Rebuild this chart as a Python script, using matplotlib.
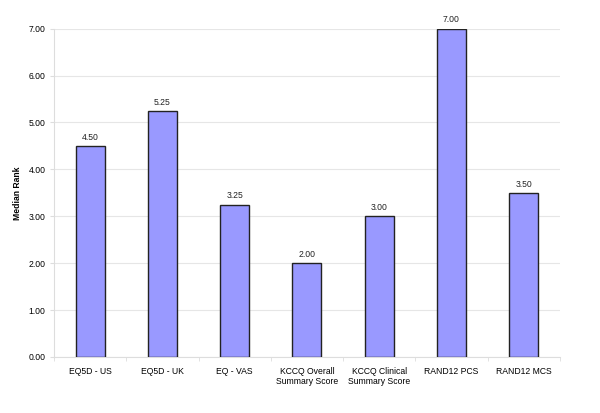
import numpy as np
import matplotlib.pyplot as plt

plt.rcParams['font.family'] = ['Liberation Sans', 'DejaVu Sans']

categories = ['EQ5D - US', 'EQ5D - UK', 'EQ - VAS', 'KCCQ Overall\nSummary Score',
              'KCCQ Clinical\nSummary Score', 'RAND12 PCS', 'RAND12 MCS']
median_rank = [4.50, 5.25, 3.25, 2.00, 3.00, 7.00, 3.50]

fig = plt.figure(figsize=(6, 4.13), dpi=100)
ax = fig.add_axes([0.09, 0.1356, 0.843, 0.795])

x = np.arange(len(categories))
bars = ax.bar(x, median_rank, width=0.4, color='#9999FF', edgecolor='#222222',
              linewidth=1.0, zorder=3)

for xi, v in zip(x, median_rank):
    ax.text(xi, v + 0.09, f'{v:.2f}', ha='center', va='bottom', fontsize=6.2, color='#222222')

ax.set_xlim(-0.5, len(categories) - 0.5)
ax.set_ylim(0, 7)
ax.set_yticks(np.arange(0, 8, 1))
ax.set_yticklabels([f'{t:.2f}' for t in range(8)], fontsize=6.2)
ax.set_xticks(x)
ax.set_xticklabels(categories, fontsize=6.2)
ax.tick_params(axis='x', length=0, pad=7)
ax.tick_params(axis='y', length=3, color='#dddddd', pad=3)

# small separator ticks between categories
ax.set_xticks(np.arange(-0.5, len(categories)), minor=True)
ax.tick_params(axis='x', which='minor', length=3, color='#dddddd')

ax.grid(axis='y', color='#e6e6e6', linewidth=0.8, zorder=0)
for s in ['top', 'right']:
    ax.spines[s].set_visible(False)
for s in ['left', 'bottom']:
    ax.spines[s].set_color('#dddddd')

ax.set_ylabel('Median Rank', fontsize=6.2, fontweight='bold', labelpad=5)

fig.savefig('out.png', dpi=100)
